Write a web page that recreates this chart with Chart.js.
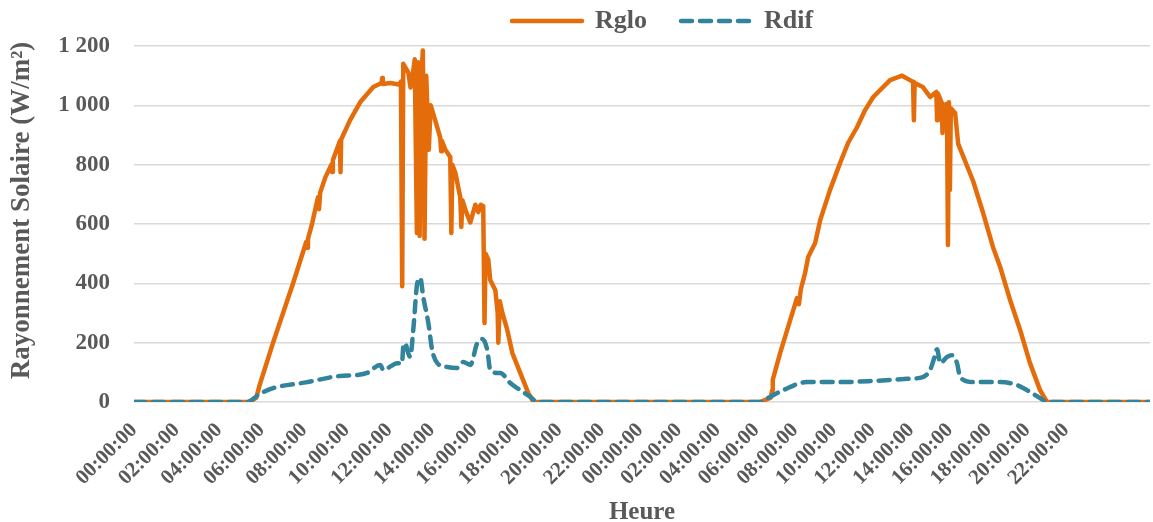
<!DOCTYPE html>
<html>
<head>
<meta charset="utf-8">
<title>Rayonnement solaire</title>
<script src="https://cdn.jsdelivr.net/npm/chart.js@4.4.0/dist/chart.umd.min.js"></script>
<style>
  html, body { margin: 0; padding: 0; background: #fff; }
</style>
</head>
<body>
<canvas id="grafico" width="1153" height="522"></canvas>
<script>
// Jour 1 : heures (décimales) et valeurs
const rgloJour1Heures = [0, 5.45, 5.75, 5.9, 6.54, 7.48, 8.10, 8.14, 8.18, 8.38, 8.65, 8.70, 8.75, 9.0, 9.28, 9.31, 9.35, 9.68, 9.71, 9.74, 10.16, 10.64, 11.25, 11.64, 11.67, 11.70, 12.05, 12.45, 12.55, 12.61, 12.66, 12.90, 13.00, 13.10, 13.20, 13.30, 13.36, 13.43, 13.48, 13.58, 13.66, 13.74, 13.86, 13.95, 14.16, 14.40, 14.44, 14.48, 14.64, 14.87, 14.92, 14.97, 15.11, 15.34, 15.39, 15.44, 15.62, 15.81, 15.95, 16.05, 16.19, 16.30, 16.42, 16.48, 16.53, 16.66, 16.75, 16.99, 17.10, 17.13, 17.20, 17.32, 17.55, 17.79, 18.16, 18.54, 18.78, 23.5];
const rgloJour1 = [0, 0, 15, 55, 200, 400, 540, 520, 550, 603, 690, 650, 705, 758, 800, 775, 815, 880, 775, 885, 950, 1011, 1062, 1075, 1092, 1072, 1075, 1070, 1080, 390, 1140, 1110, 1060, 1100, 1155, 570, 1145, 560, 1040, 1185, 550, 1100, 850, 1000, 950, 890, 845, 880, 850, 826, 570, 800, 772, 690, 590, 680, 640, 605, 640, 665, 640, 665, 660, 266, 500, 480, 411, 377, 300, 200, 340, 300, 243, 165, 98, 30, 0, 0];

const rdifJour1Heures = [0, 5.3, 5.93, 6.54, 8.14, 9.69, 10.49, 10.96, 11.58, 11.72, 12.38, 12.6, 12.66, 12.75, 12.89, 12.99, 13.13, 13.32, 13.46, 13.6, 13.84, 14.02, 14.26, 14.73, 15.2, 15.48, 15.81, 16.14, 16.38, 16.61, 16.75, 17.08, 17.22, 17.69, 18.16, 18.64, 18.96, 23.5];
const rdifJour1 = [0, 0, 28, 47, 67, 88, 91, 98, 125, 108, 131, 130, 186, 198, 165, 152, 243, 401, 418, 354, 266, 175, 131, 118, 115, 135, 125, 199, 212, 175, 108, 98, 98, 64, 40, 17, 0, 0];

// Jour 2
const rgloJour2Heures = [0, 6.2, 6.75, 6.82, 6.85, 7.23, 7.75, 8.1, 8.2, 8.3, 8.52, 8.68, 9.04, 9.30, 9.81, 10.33, 10.74, 11.21, 11.62, 12.04, 12.91, 13.53, 14.1, 14.14, 14.18, 14.6, 14.98, 15.3, 15.34, 15.38, 15.58, 15.62, 15.66, 15.85, 15.9, 15.95, 16.0, 16.05, 16.27, 16.43, 17.2, 17.72, 18.23, 18.6, 19.11, 19.63, 20.14, 20.66, 21.02, 26.4];
const rgloJour2 = [0, 0, 15, 40, 75, 165, 276, 350, 330, 380, 435, 489, 536, 613, 715, 806, 873, 927, 984, 1028, 1085, 1100, 1079, 950, 1075, 1062, 1028, 1045, 950, 1040, 1008, 907, 1000, 1005, 529, 1010, 715, 990, 974, 870, 745, 637, 522, 455, 344, 243, 131, 40, 0, 0];

const rdifJour2Heures = [0, 6.2, 6.7, 7.39, 8.6, 10.33, 12.04, 13.8, 14.6, 14.98, 15.2, 15.34, 15.5, 15.86, 16.1, 16.37, 16.53, 17.2, 18.6, 19.47, 20.14, 20.8, 21.0, 26.4];
const rdifJour2 = [0, 0, 17, 40, 67, 67, 71, 78, 84, 108, 150, 178, 131, 152, 158, 131, 84, 67, 67, 57, 34, 7, 0, 0];

// Étiquettes de l'axe des heures (toutes les 2 h, deux jours)
const heuresGraduees = [0, 2, 4, 6, 8, 10, 12, 14, 16, 18, 20, 22];
const etiquettesHeure = [
  '00:00:00', '02:00:00', '04:00:00', '06:00:00', '08:00:00', '10:00:00',
  '12:00:00', '14:00:00', '16:00:00', '18:00:00', '20:00:00', '22:00:00',
  '00:00:00', '02:00:00', '04:00:00', '06:00:00', '08:00:00', '10:00:00',
  '12:00:00', '14:00:00', '16:00:00', '18:00:00', '20:00:00', '22:00:00'
];

// Le 2e jour est un peu plus serré sur l'axe d'origine (moins d'échantillons)
const debutJour2 = 23.8;
const echelleJour2 = 0.91;
const finAxe = 47.77;

function pointsDe(heures1, valeurs1, heures2, valeurs2) {
  const p1 = heures1.map((h, i) => ({ x: h, y: valeurs1[i] }));
  const p2 = heures2.map((h, i) => ({ x: debutJour2 + h * echelleJour2, y: valeurs2[i] }));
  return p1.concat(p2);
}

const positionsGraduation = heuresGraduees.concat(heuresGraduees.map(h => debutJour2 + h * echelleJour2));

const gris = '#595959';
Chart.defaults.font.family = "'Liberation Serif', 'DejaVu Serif', serif";
Chart.defaults.font.weight = 'bold';
Chart.defaults.color = gris;

// Légende : hauteur fixe et décalage vers la droite
const placementLegende = {
  id: 'placementLegende',
  beforeInit(chart) {
    const fitOrig = chart.legend.fit;
    chart.legend.fit = function () {
      fitOrig.bind(chart.legend)();
      this.height = 46;
    };
  },
  afterLayout(chart) {
    chart.legend.left += 495;
    chart.legend.right += 495;
  }
};

const ctx = document.getElementById('grafico').getContext('2d');
new Chart(ctx, {
  type: 'line',
  data: {
    datasets: [{
      label: 'Rglo',
      data: pointsDe(rgloJour1Heures, rgloJour1, rgloJour2Heures, rgloJour2),
      borderColor: '#E46C0A',
      backgroundColor: '#E46C0A',
      borderWidth: 4.5,
      borderCapStyle: 'round',
      borderJoinStyle: 'round',
      pointRadius: 0,
      tension: 0,
      order: 2
    }, {
      label: 'Rdif',
      data: pointsDe(rdifJour1Heures, rdifJour1, rdifJour2Heures, rdifJour2),
      borderColor: '#31849B',
      backgroundColor: '#31849B',
      borderWidth: 4.5,
      borderDash: [11, 8],
      borderCapStyle: 'round',
      pointRadius: 0,
      cubicInterpolationMode: 'monotone',
      order: 1
    }]
  },
  options: {
    responsive: false,
    animation: false,
    layout: { padding: { left: 9, right: 3, top: 0, bottom: 0 } },
    plugins: {
      legend: {
        position: 'top',
        align: 'start',
        labels: {
          usePointStyle: true,
          pointStyle: 'line',
          pointStyleWidth: 70,
          padding: 8,
          font: { size: 26, weight: 'bold' },
          color: gris,
          sort: (a, b) => a.datasetIndex - b.datasetIndex,
          generateLabels(chart) {
            const items = Chart.defaults.plugins.legend.labels.generateLabels(chart);
            items.forEach(it => {
              const ds = chart.data.datasets[it.datasetIndex];
              it.lineDash = ds.borderDash || [];
              it.lineWidth = ds.borderWidth;
              it.lineCap = 'round';
              it.strokeStyle = ds.borderColor;
              if (it.datasetIndex === 0) it.text = it.text + '    ';
            });
            return items;
          }
        }
      },
      tooltip: { enabled: false }
    },
    scales: {
      x: {
        type: 'linear',
        min: 0,
        max: finAxe,
        afterBuildTicks(axis) {
          axis.ticks = positionsGraduation.map(v => ({ value: v }));
        },
        afterFit(axis) { axis.height = 120; },
        grid: { display: false },
        border: { display: false },
        ticks: {
          autoSkip: false,
          minRotation: 45,
          maxRotation: 45,
          padding: 8,
          font: { size: 21, weight: 'bold' },
          color: gris,
          callback: (value, index) => etiquettesHeure[index]
        },
        title: {
          display: true,
          text: 'Heure',
          font: { size: 25, weight: 'bold', lineHeight: 1 },
          color: gris,
          padding: { top: 0, bottom: -3 }
        }
      },
      y: {
        min: 0,
        max: 1200,
        afterFit(axis) { axis.width = 125; },
        grid: { color: '#d9d9d9', lineWidth: 1.5, drawTicks: false },
        border: { display: false },
        ticks: {
          stepSize: 200,
          padding: 24,
          font: { size: 23, weight: 'bold' },
          color: gris,
          callback: v => v >= 1000 ? Math.floor(v / 1000) + ' ' + String(v % 1000).padStart(3, '0') : String(v)
        },
        title: {
          display: true,
          text: '    Rayonnement Solaire (W/m²)',
          font: { size: 27, weight: 'bold', lineHeight: 1 },
          color: gris,
          padding: { top: 0, bottom: 0 }
        }
      }
    }
  },
  plugins: [placementLegende]
});
</script>
</body>
</html>
